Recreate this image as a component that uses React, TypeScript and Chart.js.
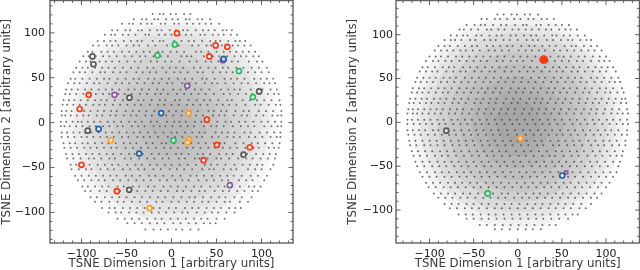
import React, { useEffect, useRef } from "react";
import { Chart, registerables } from "chart.js";

Chart.register(...registerables);

// The grey clouds hold thousands of dots in the reference. They could not be read one by one,
// so the rows below are a sparser, hand-placed stand-in that follows each disc's outline, and
// the concentric coreRadii shading stands in for the density of the dots that are left out.
type Row = [number, number[]];

const leftCloudRows: Row[] = [
  [121, [-21, -13, -9, -1, 5, 14, 21]],
  [115, [-42, -33, -28, -19, -15, -6, 1, 7, 16, 20, 29, 34, 43]],
  [110, [-55, -47, -43, -34, -27, -22, -12, -7, 3, 8, 17, 24, 31, 38, 44, 53]],
  [103, [-66, -60, -51, -46, -37, -33, -24, -16, -11, -2, 5, 13, 18, 27, 35, 41, 48, 57, 61, 67]],
  [98, [-74, -67, -63, -54, -48, -40, -29, -25, -14, -7, 0, 9, 16, 22, 32, 37, 46, 52, 58, 66, 73]],
  [91, [-82, -75, -68, -62, -53, -45, -38, -33, -21, -13, -9, 3, 11, 19, 25, 34, 43, 49, 54, 63, 71, 76, 82]],
  [86, [-87, -81, -72, -66, -59, -50, -42, -36, -26, -18, -5, 2, 8, 23, 30, 39, 44, 56, 61, 68, 74, 81, 88]],
  [79, [-93, -88, -78, -71, -64, -55, -47, -39, -31, -24, -15, -10, -1, 6, 14, 27, 33, 41, 50, 58, 65, 72, 79, 86, 93]],
  [74, [-98, -92, -84, -76, -69, -61, -52, -44, -35, -29, -20, -12, -4, 11, 17, 22, 36, 46, 53, 62, 70, 77, 83, 91, 97]],
  [68, [-102, -95, -90, -80, -73, -66, -58, -49, -41, -34, -23, -16, -7, 0, 9, 20, 28, 38, 44, 52, 60, 67, 74, 86, 95, 101]],
  [61, [-106, -99, -93, -85, -77, -70, -63, -54, -45, -37, -27, -20, -10, -2, 5, 13, 25, 32, 41, 49, 57, 63, 72, 80, 89, 97, 106]],
  [56, [-109, -102, -96, -88, -79, -74, -65, -57, -50, -39, -32, -24, -17, -6, 3, 10, 18, 29, 35, 46, 54, 61, 68, 77, 85, 93, 100, 108]],
  [49, [-112, -107, -99, -91, -83, -75, -69, -60, -51, -42, -36, -26, -19, -11, -3, 7, 15, 23, 34, 39, 48, 59, 66, 73, 81, 92, 99, 106, 113]],
  [44, [-115, -108, -102, -94, -86, -80, -71, -62, -55, -47, -38, -30, -21, -14, -5, 1, 12, 20, 27, 37, 45, 51, 60, 69, 78, 85, 94, 103, 109, 115]],
  [37, [-117, -111, -104, -96, -89, -81, -73, -66, -58, -48, -41, -33, -25, -16, -9, 2, 10, 16, 26, 33, 42, 55, 63, 70, 76, 88, 96, 101, 110, 117]],
  [32, [-118, -113, -106, -98, -92, -84, -76, -69, -59, -52, -44, -35, -27, -18, -12, -4, 6, 14, 22, 30, 38, 47, 58, 65, 74, 83, 90, 98, 107, 114, 119]],
  [25, [-120, -114, -108, -101, -93, -85, -78, -72, -63, -54, -46, -37, -31, -22, -13, -7, 4, 9, 19, 28, 36, 43, 52, 62, 67, 79, 87, 95, 103, 111, 120]],
  [20, [-121, -116, -109, -102, -95, -87, -80, -74, -65, -57, -49, -41, -34, -24, -15, -8, 0, 8, 17, 24, 32, 40, 50, 57, 64, 72, 82, 93, 99, 108, 116, 121]],
  [13, [-122, -117, -111, -103, -97, -90, -82, -75, -67, -61, -51, -43, -36, -28, -19, -10, -3, 5, 12, 21, 29, 41, 47, 55, 61, 71, 80, 86, 97, 105, 113, 122]],
  [8, [-122, -118, -112, -105, -98, -92, -83, -77, -68, -62, -53, -45, -39, -29, -22, -12, -6, 2, 11, 19, 27, 35, 46, 53, 59, 69, 78, 84, 94, 102, 112, 118, 122]],
  [1, [-123, -117, -110, -104, -100, -93, -86, -79, -71, -64, -56, -47, -40, -33, -23, -16, -5, 3, 9, 16, 26, 33, 39, 51, 60, 66, 75, 82, 91, 100, 107, 115, 122]],
  [-4, [-123, -119, -113, -106, -99, -91, -84, -76, -69, -60, -54, -44, -37, -30, -20, -13, -7, 1, 10, 18, 25, 36, 44, 50, 58, 68, 77, 85, 92, 103, 111, 118, 122]],
  [-11, [-122, -116, -109, -102, -96, -89, -81, -73, -66, -58, -50, -42, -35, -26, -18, -9, 0, 6, 15, 23, 31, 37, 49, 56, 63, 70, 81, 88, 98, 106, 114, 121]],
  [-16, [-122, -115, -108, -100, -94, -87, -79, -72, -64, -55, -48, -38, -31, -24, -15, -4, 4, 12, 20, 28, 34, 45, 52, 62, 69, 76, 86, 93, 101, 110, 117, 121]],
  [-23, [-120, -113, -107, -99, -93, -85, -77, -70, -62, -53, -46, -39, -28, -21, -11, -6, 3, 13, 22, 30, 38, 47, 54, 59, 71, 80, 89, 96, 104, 112, 120]],
  [-28, [-119, -112, -105, -97, -90, -83, -75, -67, -61, -51, -43, -34, -26, -17, -8, -1, 7, 17, 24, 32, 41, 48, 57, 65, 73, 82, 91, 97, 108, 114, 119]],
  [-35, [-117, -110, -103, -95, -88, -80, -72, -65, -56, -47, -41, -32, -22, -14, -5, 5, 11, 19, 29, 35, 43, 53, 61, 68, 78, 84, 94, 102, 109, 116]],
  [-40, [-116, -109, -101, -92, -86, -78, -69, -63, -52, -45, -36, -27, -19, -10, -3, 8, 15, 26, 31, 40, 50, 55, 64, 74, 83, 90, 99, 107, 115]],
  [-47, [-112, -106, -98, -91, -82, -74, -66, -59, -49, -40, -33, -24, -16, -7, 0, 9, 18, 27, 37, 44, 51, 60, 70, 79, 87, 95, 101, 113]],
  [-52, [-111, -103, -95, -89, -79, -71, -64, -54, -46, -37, -30, -20, -12, -2, 6, 14, 23, 34, 42, 47, 58, 66, 72, 85, 93, 100, 110]],
  [-59, [-107, -100, -92, -84, -76, -68, -61, -51, -44, -35, -25, -18, -9, 1, 10, 21, 28, 36, 45, 54, 62, 69, 78, 88, 96, 106]],
  [-64, [-104, -97, -89, -81, -74, -65, -57, -48, -39, -31, -23, -13, -5, 4, 12, 19, 30, 39, 47, 56, 63, 75, 83, 90, 103]],
  [-71, [-99, -93, -85, -77, -70, -60, -53, -43, -36, -26, -19, -9, -1, 7, 16, 25, 33, 43, 52, 59, 67, 76, 86, 92, 99]],
  [-76, [-96, -90, -80, -72, -63, -57, -46, -38, -29, -21, -12, -4, 6, 13, 22, 31, 37, 48, 57, 64, 73, 81, 90, 96]],
  [-83, [-90, -83, -74, -66, -58, -50, -41, -33, -24, -15, -7, 2, 11, 20, 26, 35, 44, 53, 60, 70, 78, 89]],
  [-88, [-85, -78, -69, -60, -53, -44, -35, -27, -17, -10, 0, 8, 17, 25, 34, 41, 50, 59, 65, 76, 85]],
  [-95, [-77, -69, -63, -54, -46, -38, -30, -20, -13, -3, 5, 15, 23, 30, 39, 47, 55, 64, 71, 77]],
  [-100, [-70, -62, -56, -47, -39, -31, -22, -14, -6, 3, 12, 18, 28, 37, 45, 52, 61, 70]],
  [-107, [-60, -52, -44, -36, -27, -18, -11, -1, 7, 16, 25, 33, 40, 50, 59]],
  [-112, [-49, -41, -33, -24, -16, -8, 2, 10, 19, 27, 36, 43, 49]],
  [-119, [-29, -20, -12, -4, 5, 12, 21, 30]],
];

const rightCloudRows: Row[] = [
  [123, [-23, -16, -7, -1, 8, 14, 23]],
  [118, [-41, -35, -26, -20, -12, -4, 3, 12, 18, 27, 33, 41]],
  [111, [-58, -49, -42, -37, -28, -19, -13, -3, 6, 10, 21, 26, 35, 43, 50, 58]],
  [106, [-66, -61, -53, -45, -35, -30, -22, -15, -6, 1, 9, 16, 24, 32, 38, 47, 54, 60, 67]],
  [99, [-76, -69, -62, -57, -47, -41, -32, -24, -18, -8, -2, 7, 15, 21, 30, 39, 44, 52, 59, 68, 76]],
  [94, [-83, -76, -71, -64, -54, -48, -38, -31, -25, -16, -9, 0, 10, 17, 23, 33, 40, 49, 57, 62, 71, 78, 83]],
  [87, [-90, -83, -77, -68, -60, -52, -46, -35, -28, -20, -12, -6, 4, 13, 19, 28, 36, 43, 53, 61, 66, 75, 83, 90]],
  [82, [-94, -87, -80, -73, -65, -59, -51, -43, -33, -26, -18, -10, 1, 9, 16, 24, 31, 41, 48, 56, 64, 72, 80, 87, 95]],
  [75, [-100, -93, -87, -79, -70, -63, -55, -47, -39, -31, -23, -15, -5, 3, 11, 20, 29, 37, 46, 52, 60, 69, 76, 85, 93, 100]],
  [70, [-104, -96, -90, -82, -75, -66, -58, -50, -42, -35, -24, -17, -8, -1, 6, 16, 26, 34, 42, 50, 58, 67, 74, 83, 92, 98, 104]],
  [63, [-108, -102, -94, -85, -78, -72, -62, -54, -46, -37, -29, -21, -13, -4, 7, 14, 22, 31, 40, 47, 55, 63, 70, 80, 88, 95, 102, 108]],
  [58, [-111, -104, -97, -91, -81, -73, -65, -59, -49, -41, -32, -26, -15, -7, 2, 11, 18, 27, 36, 44, 51, 61, 68, 76, 85, 93, 100, 111]],
  [51, [-114, -107, -100, -93, -84, -77, -70, -60, -52, -44, -36, -27, -19, -11, -3, 5, 15, 24, 31, 41, 49, 57, 65, 72, 83, 90, 98, 106, 114]],
  [46, [-116, -110, -103, -96, -87, -80, -72, -64, -56, -48, -39, -31, -22, -14, -5, 4, 12, 20, 29, 38, 45, 54, 62, 71, 78, 87, 95, 104, 110, 116]],
  [39, [-119, -112, -106, -98, -90, -83, -75, -66, -58, -50, -41, -34, -25, -18, -8, 1, 8, 18, 26, 35, 42, 52, 59, 67, 76, 84, 93, 100, 108, 118]],
  [34, [-120, -114, -108, -101, -93, -85, -79, -69, -61, -53, -45, -37, -28, -20, -10, -2, 6, 15, 23, 33, 40, 48, 56, 65, 74, 81, 90, 99, 105, 113, 120]],
  [27, [-122, -116, -109, -103, -95, -88, -81, -72, -64, -56, -47, -39, -31, -24, -13, -5, 3, 13, 21, 28, 37, 46, 54, 62, 70, 79, 88, 95, 103, 111, 118, 122]],
  [22, [-123, -118, -111, -104, -98, -90, -83, -74, -67, -59, -49, -42, -33, -25, -16, -7, 0, 10, 19, 26, 34, 43, 51, 60, 69, 77, 85, 92, 101, 109, 117, 123]],
  [15, [-124, -119, -113, -106, -99, -92, -85, -77, -69, -62, -52, -44, -36, -27, -19, -11, -3, 7, 16, 24, 32, 41, 49, 58, 66, 75, 83, 90, 99, 107, 115, 124]],
  [10, [-125, -119, -114, -108, -101, -94, -87, -78, -71, -63, -55, -46, -38, -30, -21, -13, -4, 5, 13, 22, 30, 38, 47, 55, 64, 72, 81, 89, 97, 106, 113, 119, 125]],
  [3, [-125, -120, -113, -106, -99, -91, -84, -75, -68, -60, -52, -43, -35, -26, -18, -9, -1, 8, 17, 25, 34, 42, 50, 59, 67, 76, 85, 92, 101, 108, 116, 124]],
  [-2, [-125, -118, -111, -104, -97, -89, -82, -73, -65, -57, -48, -41, -33, -24, -15, -6, 2, 11, 20, 28, 36, 45, 53, 62, 71, 79, 87, 96, 104, 112, 119, 125]],
  [-9, [-125, -119, -112, -105, -96, -90, -80, -72, -64, -55, -47, -39, -30, -22, -12, -3, 6, 14, 23, 31, 39, 48, 57, 65, 74, 82, 91, 99, 106, 114, 124]],
  [-14, [-124, -117, -110, -102, -94, -86, -78, -70, -61, -53, -45, -36, -28, -20, -11, -1, 9, 18, 26, 35, 44, 51, 60, 68, 77, 86, 94, 102, 110, 118, 124]],
  [-21, [-123, -116, -108, -100, -92, -84, -76, -67, -59, -51, -42, -34, -26, -17, -8, 0, 10, 19, 27, 37, 46, 54, 63, 70, 80, 88, 97, 104, 112, 122]],
  [-26, [-122, -115, -106, -99, -91, -83, -74, -66, -58, -49, -40, -32, -23, -14, -6, 4, 12, 22, 29, 40, 47, 56, 64, 73, 83, 91, 98, 107, 115, 122]],
  [-33, [-120, -113, -105, -97, -88, -80, -72, -64, -55, -46, -38, -29, -21, -13, -2, 7, 15, 24, 33, 43, 50, 59, 67, 75, 85, 93, 101, 110, 119]],
  [-38, [-118, -111, -103, -94, -86, -79, -70, -61, -52, -44, -35, -27, -18, -9, 1, 9, 18, 28, 36, 42, 52, 61, 69, 79, 88, 96, 105, 112, 118]],
  [-45, [-116, -108, -100, -91, -83, -75, -67, -58, -50, -41, -33, -24, -15, -5, 3, 13, 21, 30, 39, 47, 55, 64, 72, 82, 90, 99, 108, 116]],
  [-50, [-114, -106, -97, -89, -81, -72, -64, -56, -47, -38, -30, -20, -12, -3, 6, 16, 25, 32, 42, 50, 59, 67, 76, 84, 93, 102, 114]],
  [-57, [-111, -103, -94, -86, -78, -69, -61, -53, -43, -35, -26, -17, -8, 2, 10, 19, 28, 37, 46, 53, 62, 71, 80, 88, 97, 105, 112]],
  [-62, [-108, -100, -92, -83, -75, -66, -58, -49, -41, -32, -23, -14, -5, 5, 14, 22, 31, 40, 48, 57, 65, 74, 83, 92, 100, 108]],
  [-69, [-104, -96, -88, -79, -71, -63, -54, -46, -36, -28, -19, -10, -1, 8, 17, 26, 34, 43, 52, 60, 69, 78, 87, 95, 104]],
  [-74, [-101, -93, -84, -76, -68, -59, -50, -42, -33, -24, -15, -6, 4, 12, 21, 30, 38, 47, 56, 65, 73, 82, 91, 100]],
  [-81, [-95, -87, -79, -71, -62, -54, -45, -37, -28, -18, -11, 0, 9, 18, 25, 34, 43, 51, 60, 69, 78, 87, 95]],
  [-86, [-90, -82, -74, -65, -57, -48, -39, -31, -22, -14, -4, 5, 13, 22, 31, 39, 48, 57, 65, 74, 83, 90]],
  [-93, [-83, -75, -67, -58, -50, -41, -33, -24, -15, -7, 2, 11, 20, 28, 37, 46, 54, 63, 72, 83]],
  [-98, [-77, -69, -60, -52, -44, -35, -26, -18, -9, 0, 8, 17, 26, 35, 43, 52, 60, 70, 77]],
  [-105, [-67, -59, -51, -42, -33, -25, -16, -7, 2, 11, 20, 28, 37, 46, 54, 62, 68]],
  [-110, [-58, -50, -41, -33, -24, -15, -6, 3, 12, 21, 29, 38, 47, 57]],
  [-117, [-43, -35, -26, -17, -8, 1, 10, 19, 28, 36, 43]],
  [-122, [-26, -18, -9, 0, 9, 17, 26]],
];

type Pt = { x: number; y: number };

const leftRed: Pt[] = [
  { x: 6, y: 99.6 }, { x: 49, y: 86 }, { x: 62, y: 84.4 }, { x: 42, y: 73.7 }, { x: -92, y: 31 },
  { x: -102, y: 15.2 }, { x: 39.3, y: 3.3 }, { x: 50.4, y: -24.8 }, { x: 87, y: -27.4 },
  { x: 35.6, y: -41.8 }, { x: -100, y: -47 }, { x: -60.7, y: -76.3 },
];
const leftGreen: Pt[] = [
  { x: 3.7, y: 87 }, { x: -15.6, y: 75 }, { x: 75, y: 57.4 }, { x: 90.4, y: 28.5 }, { x: 2.2, y: -19.6 },
];
const leftBlue: Pt[] = [
  { x: 58, y: 71 }, { x: -11.5, y: 10.7 }, { x: -81, y: -7 }, { x: -35.9, y: -34.4 },
];
const leftPurple: Pt[] = [
  { x: 57, y: 69.6 }, { x: -63.3, y: 31 }, { x: 17.4, y: 41 }, { x: 64.8, y: -69.6 },
];
const leftGray: Pt[] = [
  { x: -87.8, y: 73.7 }, { x: -86.7, y: 65 }, { x: 97.4, y: 34.8 }, { x: -46.7, y: 27.8 },
  { x: -93, y: -8.9 }, { x: 80, y: -35.5 }, { x: -47, y: -74.8 },
];
const leftOrange: Pt[] = [
  { x: 18.9, y: 10.4 }, { x: -67.4, y: -19.6 }, { x: 19.6, y: -18.9 }, { x: 18.1, y: -21.8 }, { x: -24.4, y: -95.2 },
];

const rightRed: Pt[] = [{ x: 29.5, y: 71.6 }];
const rightGray: Pt[] = [{ x: -81, y: -9.5 }];
const rightOrange: Pt[] = [{ x: 3, y: -18.2 }];
const rightBlue: Pt[] = [{ x: 50.4, y: -60.6 }];
const rightPurple: Pt[] = [{ x: 55, y: -57.2 }];
const rightGreen: Pt[] = [{ x: -34, y: -81 }];

const coreRadii = [106, 98, 90, 80, 70, 58, 46, 34, 22];

const xTitle = "TSNE Dimension 1 [arbitrary units]";
const yTitle = "TSNE Dimension 2 [arbitrary units]";
const minorTicks = [-130, -120, -110, -100, -90, -80, -70, -60, -50, -40, -30, -20, -10, 0, 10, 20, 30, 40, 50, 60, 70, 80, 90, 100, 110, 120, 130];

const RED = "#ff3a10";
const GREEN = "#22c05e";
const BLUE = "#2163ad";
const PURPLE = "#8a5aa8";
const GRAY = "#5a5a5a";
const ORANGE = "#ff9d24";
const FONT = "'DejaVu Sans'";

const framePlugin = (coreAlpha: number) => ({
  id: "frame",
  beforeDatasetsDraw(chart: any) {
    const { ctx, scales } = chart;
    const cx = scales.x.getPixelForValue(0);
    const cy = scales.y.getPixelForValue(0);
    ctx.save();
    ctx.fillStyle = `rgba(80,80,80,${coreAlpha})`;
    for (const r of coreRadii) {
      ctx.beginPath();
      ctx.arc(cx, cy, r, 0, Math.PI * 2);
      ctx.fill();
    }
    ctx.restore();
  },
  afterDatasetsDraw(chart: any) {
    const { ctx, chartArea: a, scales } = chart;
    ctx.save();
    ctx.strokeStyle = "rgba(70,70,70,0.85)";
    ctx.lineWidth = 1;
    for (const v of minorTicks) {
      const len = v % 50 === 0 ? 4.5 : 2.5;
      const px = scales.x.getPixelForValue(v);
      const py = scales.y.getPixelForValue(v);
      ctx.beginPath();
      ctx.moveTo(px, a.bottom);
      ctx.lineTo(px, a.bottom - len);
      ctx.moveTo(px, a.top);
      ctx.lineTo(px, a.top + len);
      ctx.moveTo(a.left, py);
      ctx.lineTo(a.left + len, py);
      ctx.moveTo(a.right, py);
      ctx.lineTo(a.right - len, py);
      ctx.stroke();
    }
    ctx.strokeStyle = "rgba(80,80,80,0.9)";
    ctx.lineWidth = 1.4;
    ctx.strokeRect(a.left, a.top, a.right - a.left, a.bottom - a.top);
    ctx.restore();
  },
});

const ring = (data: Pt[], color: string, radius = 2.5, style = "circle") => ({
  data,
  order: 0,
  showLine: false,
  pointStyle: style,
  pointRadius: radius,
  pointBorderWidth: 1.7,
  pointBorderColor: color,
  pointBackgroundColor: "rgba(255,255,255,0.6)",
});

const cloud = (rows: Row[], radius: number, alpha: number) => ({
  data: rows.flatMap(([y, xs]) => xs.map((x) => ({ x, y }))),
  order: 5,
  showLine: false,
  pointBorderWidth: 0,
  pointBackgroundColor: `rgba(70,70,70,${alpha})`,
  pointRadius: radius,
});

function build(canvas: HTMLCanvasElement, datasets: any[], xLimit: number, yMin: number, yMax: number, padL: number, padR: number, tickPad: number, coreAlpha: number) {
  const tickFont = { family: FONT, size: 11 };
  const titleFont = { family: FONT, size: 11.8 };
  const fmt = (v: any) => String(v).replace("-", "\u2212");
  return new Chart(canvas, {
    type: "scatter",
    data: { datasets },
    plugins: [framePlugin(coreAlpha)],
    options: {
      animation: false,
      responsive: false,
      events: [],
      layout: { padding: { left: padL, right: padR, top: 6.5, bottom: 0 } },
      plugins: { legend: { display: false }, tooltip: { enabled: false } },
      scales: {
        x: {
          type: "linear",
          min: -xLimit,
          max: xLimit,
          afterFit: (s: any) => { s.height = 28; s.paddingLeft = 0; s.paddingRight = 0; },
          grid: { display: false, drawTicks: false },
          border: { display: false },
          title: { display: true, text: xTitle, color: "#3a3a3a", font: titleFont, padding: { top: 0, bottom: 0 } },
          ticks: { stepSize: 50, includeBounds: false, autoSkip: false, maxRotation: 0, padding: 4.5, color: "#222", font: tickFont, callback: fmt },
        },
        y: {
          type: "linear",
          min: yMin,
          max: yMax,
          afterFit: (s: any) => { s.width = 50; s.paddingTop = 0; s.paddingBottom = 0; },
          grid: { display: false, drawTicks: false },
          border: { display: false },
          title: { display: true, text: yTitle, color: "#3a3a3a", font: titleFont, padding: { top: 0, bottom: 0 } },
          ticks: { stepSize: 50, includeBounds: false, autoSkip: false, padding: tickPad, color: "#222", font: tickFont, callback: fmt },
        },
      },
    } as any,
  });
}

export default function App() {
  const leftRef = useRef<HTMLCanvasElement>(null);
  const rightRef = useRef<HTMLCanvasElement>(null);
  useEffect(() => {
    const left = build(leftRef.current!, [
      ring(leftRed, RED), ring(leftGreen, GREEN), ring(leftBlue, BLUE),
      ring(leftPurple, PURPLE), ring(leftGray, GRAY), ring(leftOrange, ORANGE),
      cloud(leftCloudRows, 1, 0.75),
    ], 135, -134, 136, 0, 27, 5, 0.06);
    const right = build(rightRef.current!, [
      { ...ring(rightRed, RED, 3.6), pointBackgroundColor: RED },
      ring(rightGray, GRAY), ring(rightOrange, ORANGE, 2.6), ring(rightBlue, BLUE),
      ring(rightPurple, PURPLE, 2, "rect"), ring(rightGreen, GREEN),
      cloud(rightCloudRows, 1, 0.8),
    ], 138, -137.6, 139, 26, 6.5, 3, 0.075);
    return () => { left.destroy(); right.destroy(); };
  }, []);
  const canvasStyle = { position: "absolute", top: -6, display: "block" } as const;
  return (
    <div style={{ position: "absolute", left: 0, top: 0, width: 640, height: 270, overflow: "hidden", background: "#fff" }}>
      <canvas ref={leftRef} width={320} height={277} style={{ ...canvasStyle, left: 0 }} />
      <canvas ref={rightRef} width={326} height={277} style={{ ...canvasStyle, left: 320 }} />
    </div>
  );
}
